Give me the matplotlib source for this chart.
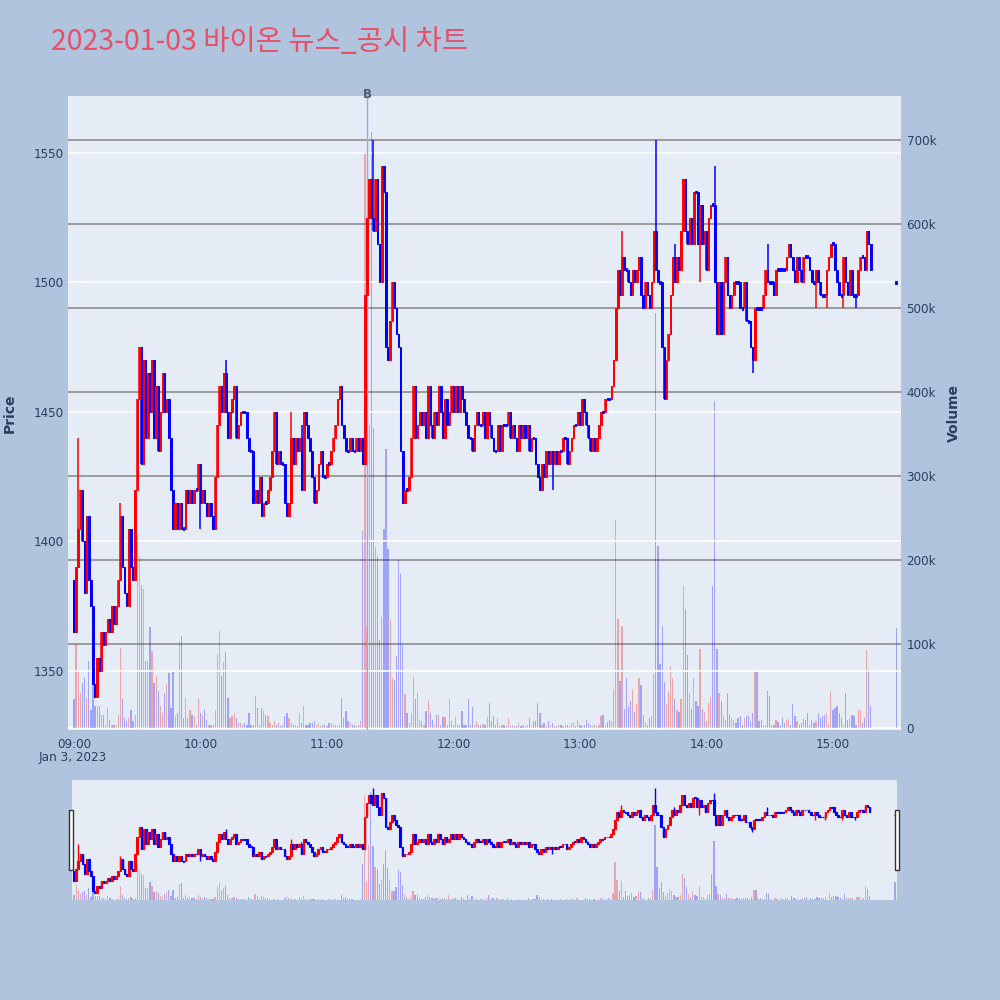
import numpy as np
import matplotlib.pyplot as plt
from matplotlib.patches import Rectangle

plt.rcParams['font.family'] = ['DejaVu Sans', 'Noto Sans CJK KR']

title = "2023-01-03 바이온 뉴스_공시 차트"

# 1-minute candles, minute index from 09:00 (0) to 15:18 (378)
first_open = 1385
close_px = [
    1365, 1390, 1405, 1420, 1400, 1380, 1410, 1385, 1375, 1345,
    1340, 1355, 1350, 1365, 1360, 1365, 1370, 1365, 1375, 1368,
    1375, 1385, 1410, 1390, 1380, 1375, 1405, 1390, 1385, 1420,
    1455, 1475, 1430, 1470, 1440, 1465, 1450, 1470, 1440, 1460,
    1435, 1450, 1465, 1450, 1455, 1440, 1420, 1405, 1415, 1405,
    1415, 1405, 1405, 1420, 1415, 1420, 1415, 1420, 1420, 1430,
    1415, 1420, 1415, 1410, 1415, 1410, 1405, 1425, 1445, 1460,
    1450, 1465, 1450, 1440, 1450, 1455, 1460, 1440, 1445, 1450,
    1450, 1450, 1440, 1435, 1435, 1415, 1420, 1415, 1425, 1410,
    1415, 1415, 1420, 1425, 1435, 1450, 1430, 1435, 1430, 1430,
    1415, 1410, 1415, 1440, 1430, 1440, 1435, 1440, 1420, 1450,
    1445, 1440, 1435, 1425, 1415, 1420, 1430, 1435, 1425, 1425,
    1430, 1430, 1435, 1440, 1445, 1455, 1460, 1445, 1440, 1435,
    1435, 1440, 1435, 1435, 1440, 1435, 1440, 1430, 1495, 1525,
    1540, 1525, 1520, 1540, 1515, 1500, 1545, 1535, 1475, 1470,
    1485, 1500, 1490, 1480, 1475, 1435, 1415, 1420, 1420, 1425,
    1440, 1460, 1440, 1445, 1450, 1445, 1450, 1440, 1460, 1445,
    1440, 1450, 1445, 1460, 1450, 1440, 1455, 1445, 1450, 1460,
    1450, 1460, 1450, 1460, 1455, 1450, 1445, 1440, 1440, 1435,
    1445, 1450, 1445, 1445, 1450, 1440, 1450, 1445, 1440, 1435,
    1435, 1445, 1435, 1445, 1445, 1445, 1450, 1440, 1445, 1440,
    1435, 1445, 1440, 1445, 1440, 1445, 1435, 1440, 1440, 1430,
    1425, 1420, 1430, 1425, 1435, 1430, 1435, 1430, 1435, 1430,
    1435, 1435, 1440, 1440, 1430, 1435, 1440, 1445, 1445, 1450,
    1445, 1455, 1450, 1445, 1440, 1435, 1440, 1435, 1440, 1445,
    1450, 1450, 1455, 1455, 1455, 1460, 1470, 1490, 1505, 1495,
    1510, 1505, 1505, 1500, 1495, 1505, 1500, 1505, 1510, 1495,
    1490, 1500, 1495, 1490, 1500, 1520, 1505, 1500, 1500, 1475,
    1455, 1470, 1480, 1495, 1510, 1500, 1510, 1505, 1520, 1540,
    1520, 1515, 1525, 1515, 1535, 1535, 1515, 1530, 1515, 1520,
    1505, 1525, 1530, 1530, 1500, 1480, 1500, 1480, 1500, 1510,
    1495, 1490, 1495, 1500, 1500, 1500, 1490, 1490, 1500, 1485,
    1485, 1475, 1470, 1490, 1490, 1490, 1490, 1495, 1505, 1500,
    1500, 1500, 1495, 1505, 1505, 1505, 1505, 1505, 1510, 1515,
    1510, 1505, 1500, 1510, 1505, 1500, 1510, 1510, 1510, 1505,
    1500, 1500, 1505, 1500, 1495, 1495, 1495, 1505, 1510, 1515,
    1515, 1505, 1500, 1495, 1495, 1510, 1500, 1495, 1505, 1495,
    1495, 1495, 1505, 1510, 1510, 1505, 1520, 1515, 1505,
]

# volume in thousands
volume_k = [
    34, 100, 68, 42, 54, 60, 36, 80, 22, 60,
    26, 26, 26, 16, 16, 4, 24, 10, 4, 3,
    4, 16, 95, 34, 12, 8, 12, 22, 8, 16,
    229, 205, 170, 165, 80, 80, 120, 92, 54, 62,
    44, 26, 18, 42, 52, 66, 24, 68, 14, 18,
    104, 110, 12, 36, 12, 22, 16, 14, 4, 36,
    18, 16, 22, 10, 4, 4, 4, 22, 88, 115,
    62, 78, 90, 36, 12, 14, 18, 12, 6, 6,
    4, 6, 3, 18, 4, 3, 38, 24, 4, 24,
    20, 16, 14, 6, 3, 8, 3, 6, 2, 3,
    14, 18, 12, 6, 3, 4, 2, 18, 6, 26,
    4, 3, 6, 6, 8, 3, 6, 2, 4, 3,
    2, 6, 6, 3, 4, 2, 3, 36, 12, 20,
    8, 6, 4, 3, 2, 3, 8, 235, 686, 120,
    361, 710, 357, 215, 205, 105, 132, 237, 332, 213,
    130, 59, 57, 86, 200, 183, 100, 40, 18, 6,
    18, 61, 35, 42, 10, 8, 4, 20, 32, 18,
    10, 4, 15, 15, 4, 13, 13, 4, 35, 8,
    4, 13, 4, 3, 20, 4, 3, 35, 4, 25,
    3, 8, 3, 4, 5, 3, 13, 30, 8, 14,
    3, 12, 2, 4, 4, 2, 12, 2, 4, 2,
    2, 6, 2, 3, 2, 3, 12, 2, 8, 8,
    30, 18, 3, 6, 2, 8, 3, 6, 2, 2,
    3, 4, 2, 3, 4, 2, 6, 6, 2, 10,
    3, 2, 3, 10, 6, 4, 2, 4, 2, 3,
    14, 16, 3, 7, 10, 8, 47, 248, 130, 56,
    122, 23, 60, 26, 32, 46, 19, 28, 60, 51,
    16, 7, 3, 12, 14, 64, 494, 217, 76, 121,
    55, 28, 44, 74, 60, 35, 21, 19, 35, 169,
    142, 87, 42, 23, 60, 32, 26, 94, 23, 19,
    8, 30, 37, 169, 389, 94, 42, 32, 16, 10,
    42, 16, 12, 10, 6, 12, 14, 4, 12, 14,
    14, 8, 18, 67, 67, 8, 10, 4, 4, 44,
    38, 4, 3, 10, 7, 3, 12, 6, 10, 11,
    3, 28, 14, 8, 3, 6, 12, 10, 18, 3,
    10, 6, 8, 18, 12, 14, 16, 18, 3, 44,
    22, 24, 26, 18, 12, 4, 42, 10, 12, 16,
    14, 3, 22, 22, 6, 12, 93, 70, 26,
]

wick_high = {2: 1440, 22: 1415, 59: 1430, 72: 1470, 103: 1450, 108: 1445,
             142: 1555, 146: 1545, 260: 1520, 268: 1510, 276: 1555,
             285: 1515, 304: 1545, 329: 1515, 339: 1515}
wick_low = {60: 1405, 227: 1420, 297: 1500, 322: 1465, 352: 1490,
            357: 1490, 365: 1490, 371: 1490}

# closing auction at 15:30
auction_min = 390
auction_px = 1500
auction_vol = 119

news_min = 139
news_label = "B"

hour_ticks = [0, 60, 120, 180, 240, 300, 360]
hour_labels = ["09:00", "10:00", "11:00", "12:00", "13:00", "14:00", "15:00"]
price_ticks = [1350, 1400, 1450, 1500, 1550]
vol_ticks = [0, 100, 200, 300, 400, 500, 600, 700]

RED = '#FF0000'
BLUE = '#0000FF'
TXT = '#2a3f5f'
BG = '#E5ECF6'

c = np.array(close_px, dtype=float)
o = np.concatenate([[first_open], c[:-1]])
t = np.arange(len(c), dtype=float)
t = np.append(t, auction_min)
o = np.append(o, auction_px)
c = np.append(c, auction_px)
v = np.append(np.array(volume_k, dtype=float), auction_vol)

hi = np.maximum(o, c)
lo = np.minimum(o, c)
for k, val in wick_high.items():
    hi[k] = max(hi[k], val)
for k, val in wick_low.items():
    lo[k] = min(lo[k], val)

up = c > o
cols = np.where(up, RED, BLUE)

body_b = np.minimum(o, c)
body_h = np.abs(c - o)
flat = body_h < 1.0
body_b[flat] -= (1.0 - body_h[flat]) / 2
body_h[flat] = 1.0


def draw_candles(axp, width, wick_lw, edge_lw):
    axp.vlines(t, lo, hi, colors=cols, linewidth=wick_lw, zorder=3)
    axp.bar(t, body_h, bottom=body_b, width=width, color=cols,
            edgecolor=cols, linewidth=edge_lw, zorder=4)


fig = plt.figure(figsize=(10, 10), dpi=100, facecolor='#B0C4DE')

fig.text(0.051, 0.958, title, fontsize=20.5, color='#E8506A', va='center',
         family=['Noto Sans CJK KR', 'DejaVu Sans'])

# main chart
ax = fig.add_axes([0.068, 0.270, 0.833, 0.634])
axv = ax.twinx()
ax.set_zorder(axv.get_zorder() + 1)
ax.patch.set_visible(False)
axv.patch.set_visible(True)
axv.set_facecolor(BG)

axv.bar(t, v, width=0.6, color=cols, alpha=0.3, linewidth=0, zorder=2)
axv.axhline(0, color='white', linewidth=1.6, zorder=1)
axv.set_ylim(-2.4, 752.4)
axv.set_yticks(vol_ticks)
axv.set_yticklabels(['0'] + [f'{x}k' for x in vol_ticks[1:]])
axv.grid(axis='y', color='#8c8c8c', linewidth=1.2)
axv.set_axisbelow(True)

draw_candles(ax, 0.7, 1.1, 0.7)
ax.axvline(news_min, color='#9aa4f0', linewidth=1, zorder=2)
ax.text(news_min, 1572.5, news_label, ha='center', va='center', fontsize=8.5,
        fontweight='bold', color='#4a5a78', clip_on=False)

ax.set_ylim(1327.2, 1572)
ax.set_xlim(-2.85, 392.3)
ax.set_yticks(price_ticks)
ax.grid(axis='y', color='white', linewidth=1.2, zorder=0)
ax.set_xticks(hour_ticks)
ax.set_xticklabels(hour_labels)

for a in (ax, axv):
    for s in a.spines.values():
        s.set_visible(False)
    a.tick_params(length=0, labelsize=8.64, labelcolor=TXT)
ax.tick_params(axis='y', pad=3)
ax.tick_params(axis='x', pad=6)
axv.tick_params(axis='y', pad=4)

fig.text(0.073, 0.242, 'Jan 3, 2023', ha='center', va='center',
         fontsize=8.64, color=TXT)
fig.text(0.010, 0.587, 'Price', rotation=90, ha='center', va='center',
         fontsize=10, fontweight='bold', color=TXT)
fig.text(0.954, 0.587, 'Volume', rotation=90, ha='center', va='center',
         fontsize=10, fontweight='bold', color=TXT)

# range slider
sl = fig.add_axes([0.072, 0.100, 0.825, 0.120])
sl.set_facecolor(BG)
sl.bar(t, v, width=0.6, color=cols, alpha=0.3, linewidth=0)
sl.set_ylim(0, 790)
sl.set_xlim(-1, 391)
slp = sl.twinx()
draw_candles(slp, 0.8, 1.0, 0.8)
slp.set_ylim(1326, 1571)
for a in (sl, slp):
    a.set_xticks([])
    a.set_yticks([])
    for s in a.spines.values():
        s.set_visible(False)

for hx in (0.069, 0.895):
    fig.add_artist(Rectangle((hx, 0.130), 0.004, 0.060, transform=fig.transFigure,
                             facecolor='white', edgecolor='#333333', linewidth=1))

fig.savefig('out.png', dpi=100, facecolor=fig.get_facecolor())
